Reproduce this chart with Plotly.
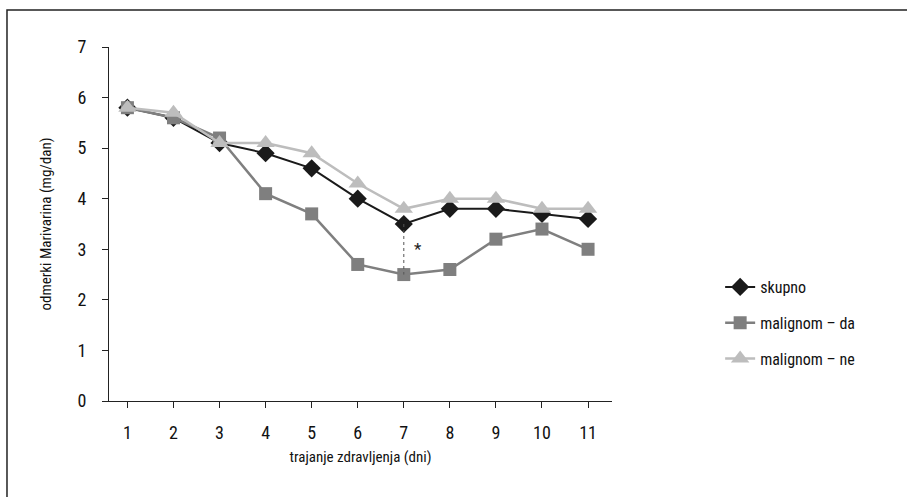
import plotly.graph_objects as go

days = [1, 2, 3, 4, 5, 6, 7, 8, 9, 10, 11]
skupno = [5.8, 5.6, 5.1, 4.9, 4.6, 4.0, 3.5, 3.8, 3.8, 3.7, 3.6]
malignom_da = [5.8, 5.6, 5.2, 4.1, 3.7, 2.7, 2.5, 2.6, 3.2, 3.4, 3.0]
malignom_ne = [5.8, 5.7, 5.1, 5.1, 4.9, 4.3, 3.8, 4.0, 4.0, 3.8, 3.8]
y_ticks = [0, 1, 2, 3, 4, 5, 6, 7]

FONT = "Roboto Condensed, DejaVu Sans Condensed, sans-serif"

fig = go.Figure()
fig.add_trace(go.Scatter(
    x=days, y=skupno, name="skupno", mode="lines+markers",
    legendgroup="sk", legendrank=1,
    line=dict(color="#1a1a1a", width=2),
    marker=dict(symbol="diamond", size=14, color="#1a1a1a"),
))
fig.add_trace(go.Scatter(
    x=days, y=malignom_da, name="malignom – da", mode="lines+markers",
    legendgroup="da", legendrank=2,
    line=dict(color="#7f7f7f", width=2.5),
    marker=dict(symbol="square", size=13, color="#7f7f7f"),
))
fig.add_trace(go.Scatter(
    x=days, y=malignom_ne, name="malignom – ne", mode="lines+markers",
    legendgroup="ne", legendrank=3,
    line=dict(color="#bdbdbd", width=2.5),
    marker=dict(symbol="triangle-up", size=16, color="#bdbdbd"),
))

# dotted connector marking the significant difference on day 7
fig.add_shape(type="line", x0=7, x1=7, y0=skupno[6], y1=malignom_da[6],
              line=dict(color="#555555", width=1, dash="dot"))
fig.add_annotation(x=7.3, y=(skupno[6] + malignom_da[6]) / 2, text="*",
                   showarrow=False, font=dict(family=FONT, size=17, color="#222"))

# outer frame
fig.add_shape(type="rect", xref="paper", yref="paper",
              x0=-0.2028, x1=1.6, y0=-0.3, y1=1.1045,
              line=dict(color="#222222", width=1.5))

fig.update_layout(
    width=907, height=497,
    margin=dict(l=109, r=295, t=47, b=96),
    paper_bgcolor="white", plot_bgcolor="white",
    font=dict(family=FONT, size=17, color="#111"),
    legend=dict(x=1.215, y=0.37, xanchor="left", yanchor="top",
                font=dict(size=16), tracegroupgap=12,
                bgcolor="rgba(0,0,0,0)"),
    xaxis=dict(
        range=[0.6, 11.52], tickvals=days, ticks="outside", ticklen=6,
        tickcolor="#222", showline=True, linecolor="#222", linewidth=1,
        showgrid=False, zeroline=False, ticklabelstandoff=9,
        tickfont=dict(size=18),
        title=dict(text="trajanje zdravljenja (dni)", standoff=9,
                   font=dict(size=15)),
    ),
    yaxis=dict(
        range=[0, 7], tickvals=y_ticks, ticks="outside", ticklen=6,
        tickcolor="#222", showline=True, linecolor="#222", linewidth=1,
        showgrid=False, zeroline=False, ticklabelstandoff=12,
        tickfont=dict(size=18),
        title=dict(text="odmerki Marivarina (mg/dan)", standoff=22,
                   font=dict(size=15)),
    ),
)

fig.write_html("out.html")
